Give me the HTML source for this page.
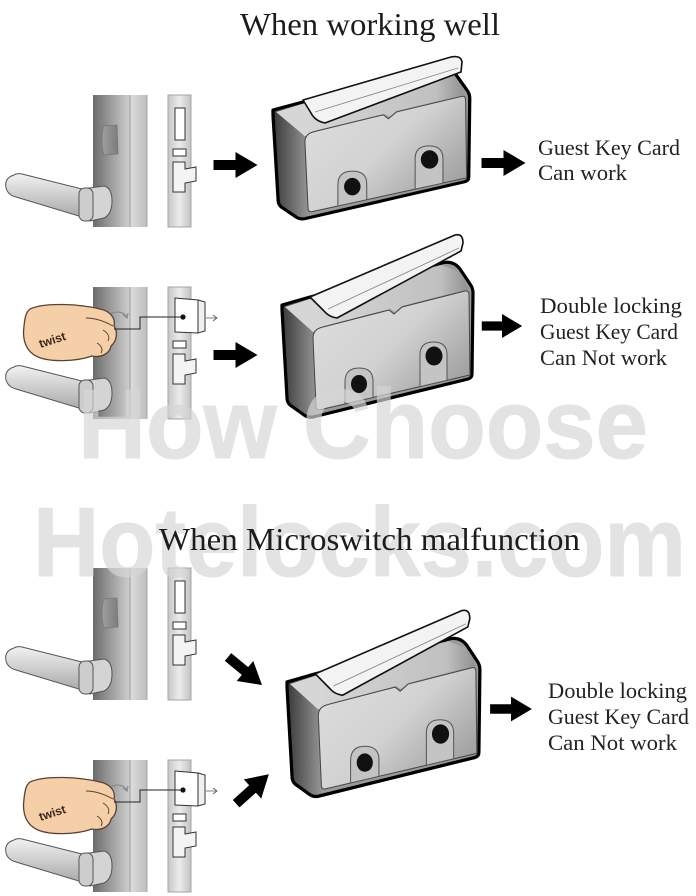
<!DOCTYPE html>
<html><head><meta charset="utf-8">
<style>
html,body{margin:0;padding:0;background:#fff;}
svg{display:block;}
.t{font-family:"Liberation Serif",serif;fill:#1c1c1c;}
.lb{font-family:"Liberation Serif",serif;fill:#222;font-size:22px;}
.wm{font-family:"Liberation Sans",sans-serif;font-size:98px;font-weight:bold;fill:#d6d6d6;stroke:#d6d6d6;stroke-width:1;}
</style></head><body>
<svg width="696" height="896" viewBox="0 0 696 896" xmlns="http://www.w3.org/2000/svg">
<defs>
<linearGradient id="gPlate" x1="0" x2="1" y1="0" y2="0"><stop offset="0" stop-color="#6c6c6c"/><stop offset="1" stop-color="#cfcfcf"/></linearGradient>
<linearGradient id="gStrip" x1="0" x2="1" y1="0" y2="0"><stop offset="0" stop-color="#dedede"/><stop offset="1" stop-color="#bdbdbd"/></linearGradient>
<linearGradient id="gFace" x1="0" x2="1" y1="0" y2="0"><stop offset="0" stop-color="#c6c6c6"/><stop offset="0.5" stop-color="#ececec"/><stop offset="1" stop-color="#c2c2c2"/></linearGradient>
<linearGradient id="gHandle" x1="0" x2="0" y1="0" y2="1"><stop offset="0" stop-color="#f2f2f2"/><stop offset="1" stop-color="#a9a9a9"/></linearGradient>
<linearGradient id="gBtn" x1="0" x2="1" y1="0" y2="0"><stop offset="0" stop-color="#a0a0a0"/><stop offset="1" stop-color="#7c7c7c"/></linearGradient>
<linearGradient id="gSide" gradientUnits="userSpaceOnUse" x1="0" y1="0" x2="36" y2="0"><stop offset="0" stop-color="#3a3a3a"/><stop offset="1" stop-color="#9a9a9a"/></linearGradient>
<linearGradient id="gTop" gradientUnits="userSpaceOnUse" x1="30" y1="0" x2="190" y2="0"><stop offset="0" stop-color="#d6d6d6"/><stop offset="0.8" stop-color="#c0c0c0"/><stop offset="1" stop-color="#8a8a8a"/></linearGradient>
<linearGradient id="gFront" gradientUnits="userSpaceOnUse" x1="40" y1="0" x2="150" y2="110"><stop offset="0" stop-color="#dcdcdc"/><stop offset="0.5" stop-color="#d2d2d2"/><stop offset="1" stop-color="#9e9e9e"/></linearGradient>

<g id="lockBase">
  <rect x="93" y="95" width="37" height="132" fill="url(#gPlate)"/>
  <rect x="130" y="95" width="17" height="132" fill="url(#gStrip)"/>
  <line x1="130" y1="95" x2="130" y2="227" stroke="#9a9a9a" stroke-width="1"/>
  <line x1="147" y1="95" x2="147" y2="227" stroke="#aaa" stroke-width="1"/>
  <rect x="168" y="95" width="23" height="132" fill="url(#gFace)" stroke="#a5a5a5" stroke-width="1"/>
  <rect x="173" y="149" width="13" height="7" fill="#fff" stroke="#333" stroke-width="1"/>
  <path d="M173,162 H185 V169 L196,167 V181 L185,183 V192 H173 Z" fill="#f4f4f4" stroke="#333" stroke-width="1"/>
  <path d="M14,175 Q4,178 6,188 Q8,195 16,197 L82,217 L82,189 L22,174 Q17,173 14,175Z" fill="url(#gHandle)" stroke="#555" stroke-width="1"/>
  <path d="M82,189 L104,186 Q112,188 112,201 Q112,214 104,218 L90,221 L82,217Z" fill="#d4d4d4" stroke="#555" stroke-width="1"/>
  <rect x="79" y="188" width="14" height="33" rx="6" fill="#cdcdcd" stroke="#555" stroke-width="1"/>
</g>
<g id="slotParts">
  <rect x="175" y="108" width="10" height="32" fill="#fff" stroke="#333" stroke-width="1"/>
  <path d="M104,126 L117,125 L118,154 L104,155 Q102,150 102,140 Q102,130 104,126Z" fill="url(#gBtn)" stroke="#777" stroke-width="0.8"/>
</g>
<g id="handParts">
  <path d="M175,298 L198,300 L198,333 L175,332 Z" fill="#fff" stroke="#333" stroke-width="1"/>
  <path d="M198,300 L205,302 L205,331 L198,333 Z" fill="#f0f0f0" stroke="#333" stroke-width="1"/>
  <path d="M206,318 H217 M213,315 L217,318 L213,321" fill="none" stroke="#555" stroke-width="0.8"/>
  <path d="M106,321 C108,311 122,309 127,317" fill="none" stroke="#8a8a8a" stroke-width="1.2"/>
  <path d="M123,315 L127,318 L128,313" fill="none" stroke="#8a8a8a" stroke-width="1.2"/>
  <path d="M30,309 C45,302 80,304 100,309 C110,311 116,318 114,326 C118,332 117,341 111,346 C110,353 102,358 92,356 C75,362 50,362 38,357 C26,352 22,340 24,326 C25,317 26,312 30,309 Z" fill="#f5cfa8" stroke="#5a4232" stroke-width="1.3"/>
  <path d="M86,318 C95,318 104,321 113,326 M103,330 C108,333 110,337 108,341 M97,343 C102,346 103,350 101,353" fill="none" stroke="#5a4232" stroke-width="1"/>
  <text x="38" y="344" transform="rotate(-18 52 338)" font-family="Liberation Sans, sans-serif" font-size="12" font-weight="bold" fill="#3a2a1a">twist</text>
  <path d="M114,329 H140 V317 H183" fill="none" stroke="#222" stroke-width="1"/>
  <circle cx="183" cy="317" r="2.6" fill="#111"/>
</g>

<g id="swBody">
  <path d="M0,0 L28,-8 L160,-42 Q171,-45 178,-36 L188,-21 Q191,-17 191,-12 L190,69 Q190,73 186,74 L31,112 Q26,113 22,110 L8,100 Q5,97 5,93 L0,5 Z" fill="url(#gSide)" stroke="#000" stroke-width="3.2" stroke-linejoin="round"/>
  <path d="M3,2 L28,-6 L160,-40 L177,-33 L186,-16 L120,1 L113,7 L108,4 L42,21 L31,27 Z" fill="url(#gTop)"/>
  <path d="M31,33 Q31,24 41,22 L107,5 L112,9 L120,2 L183,-14 Q187,-15 187,-10 L188,70 L37,105 Q34,105 34,101 Z" fill="url(#gFront)" stroke="#444" stroke-width="1"/>
  <path d="M63,99 L63,77 Q63,63 77,63 Q91,63 91,76 L91,92.5 Z" fill="#c4c4c4" stroke="#555" stroke-width="1"/>
  <ellipse cx="77" cy="79" rx="8" ry="9" fill="#111"/>
  <path d="M138,81.6 L138,50 Q138,37 151.5,37 Q165,37 165,50 L165,75.3 Z" fill="#c4c4c4" stroke="#555" stroke-width="1"/>
  <ellipse cx="152" cy="51" rx="8.5" ry="9.5" fill="#111"/>
</g>
<g id="leverUp">
  <path d="M28,-8 L173,-70 Q181,-72 181,-62 L179,-54 L55,13 Q47,12 42,6 Z" fill="#f3f3f3" stroke="#111" stroke-width="1.6" stroke-linejoin="round"/>
  <path d="M46,4 L177,-57" fill="none" stroke="#8a8a8a" stroke-width="0.9"/>
</g>
<path id="arr" d="M-22,-5 L0,-5 L0,-13 L22,0 L0,13 L0,5 L-22,5 Z" fill="#000"/>
</defs>

<!-- Titles -->
<text class="t" x="240" y="35" font-size="32" textLength="260" lengthAdjust="spacingAndGlyphs">When working well</text>

<!-- Row 1 -->
<use href="#lockBase"/>
<use href="#slotParts"/>
<use href="#arr" transform="translate(235.5,165)"/>
<g transform="translate(273,110) scale(1.03,0.97)"><use href="#swBody"/></g>
<path d="M303,100 L451,57 Q461,55 462,62 L461,72 L325,123 Q315,121 311,113 Z" fill="#f3f3f3" stroke="#111" stroke-width="1.6" stroke-linejoin="round"/>
<path d="M315,112 L458,68" fill="none" stroke="#8a8a8a" stroke-width="0.9"/>
<use href="#arr" transform="translate(503.5,163)"/>
<text class="lb" x="538" y="155" textLength="142" lengthAdjust="spacingAndGlyphs">Guest Key Card</text>
<text class="lb" x="538" y="180" textLength="89" lengthAdjust="spacingAndGlyphs">Can work</text>

<!-- Row 2 -->
<use href="#lockBase" transform="translate(0,192)"/>
<use href="#handParts"/>
<use href="#arr" transform="translate(235.5,355)"/>
<g transform="translate(282,305)"><use href="#swBody"/><use href="#leverUp"/></g>
<use href="#arr" transform="translate(502,326) scale(0.92)"/>
<text class="lb" x="540" y="313" textLength="142" lengthAdjust="spacingAndGlyphs">Double locking</text>
<text class="lb" x="540" y="339" textLength="138" lengthAdjust="spacingAndGlyphs">Guest Key Card</text>
<text class="lb" x="540" y="365" textLength="127" lengthAdjust="spacingAndGlyphs">Can Not work</text>

<!-- Row 3 -->
<use href="#lockBase" transform="translate(0,473)"/>
<use href="#slotParts" transform="translate(0,473)"/>
<use href="#lockBase" transform="translate(0,665)"/>
<use href="#handParts" transform="translate(0,473)"/>
<use href="#arr" transform="translate(245,671) rotate(39.5)"/>
<use href="#arr" transform="translate(252.5,789) rotate(-42)"/>
<g transform="translate(287,682) scale(1.01,1.02)"><use href="#swBody"/><use href="#leverUp"/></g>
<use href="#arr" transform="translate(511,709) scale(0.95)"/>
<text class="lb" x="548" y="698" textLength="139" lengthAdjust="spacingAndGlyphs">Double locking</text>
<text class="lb" x="548" y="724" textLength="141" lengthAdjust="spacingAndGlyphs">Guest Key Card</text>
<text class="lb" x="548" y="750" textLength="129" lengthAdjust="spacingAndGlyphs">Can Not work</text>

<!-- Watermark -->
<g opacity="0.68">
<text class="wm" x="78" y="458" textLength="570" lengthAdjust="spacingAndGlyphs">How Choose</text>
<text class="wm" x="33" y="576" textLength="653" lengthAdjust="spacingAndGlyphs">Hotelocks.com</text>
</g>

<text class="t" x="159" y="550" font-size="32" textLength="421" lengthAdjust="spacingAndGlyphs">When Microswitch malfunction</text>
</svg>
</body></html>
